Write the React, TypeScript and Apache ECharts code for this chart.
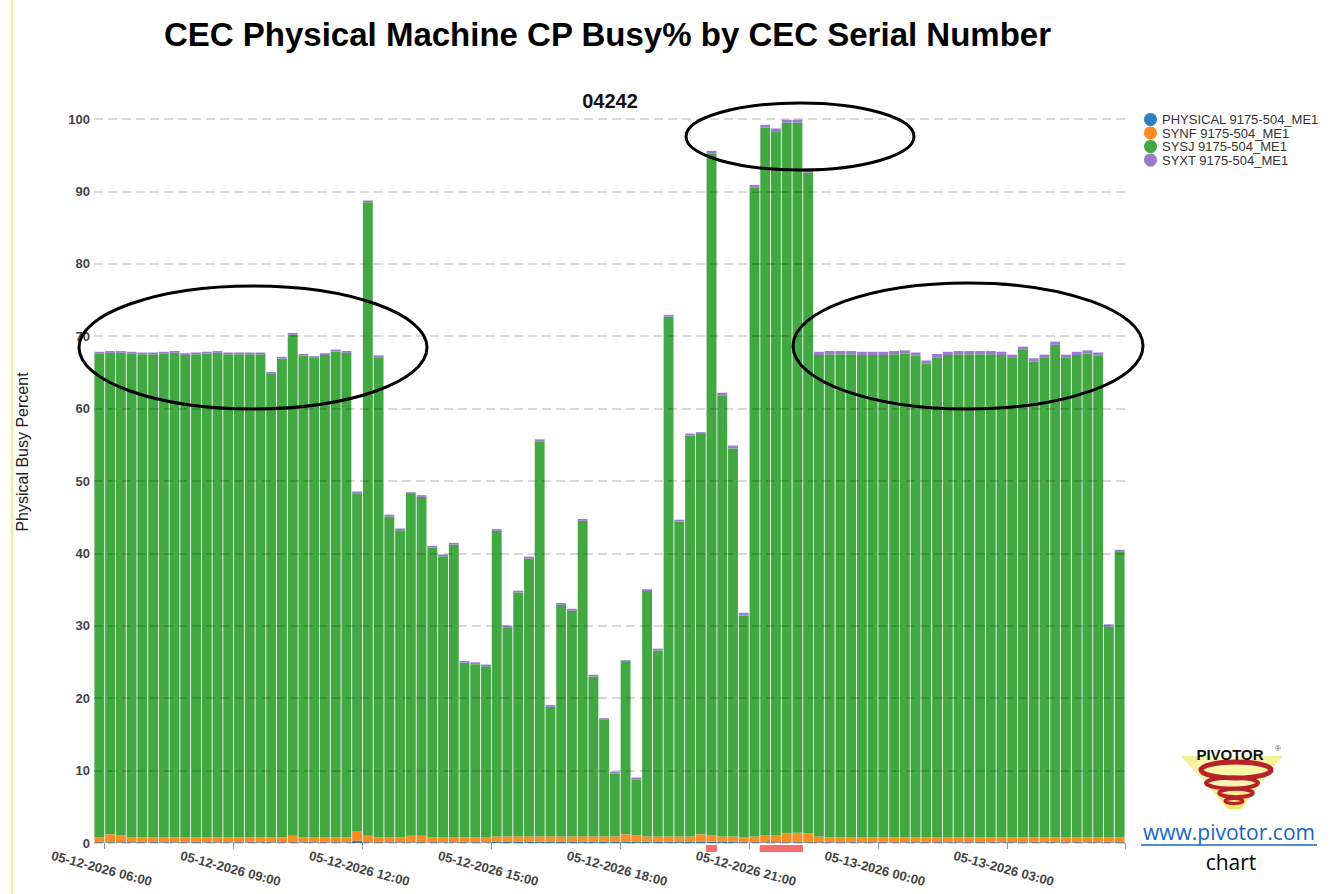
import React, { useEffect, useRef } from "react";
import * as echarts from "echarts";

// 15-minute intervals, 05-12-2026 05:45 through 05-13-2026 05:30
const DAY1_TIMES = [
  "05:45",
  "06:00", "06:15", "06:30", "06:45", "07:00", "07:15", "07:30", "07:45",
  "08:00", "08:15", "08:30", "08:45", "09:00", "09:15", "09:30", "09:45",
  "10:00", "10:15", "10:30", "10:45", "11:00", "11:15", "11:30", "11:45",
  "12:00", "12:15", "12:30", "12:45", "13:00", "13:15", "13:30", "13:45",
  "14:00", "14:15", "14:30", "14:45", "15:00", "15:15", "15:30", "15:45",
  "16:00", "16:15", "16:30", "16:45", "17:00", "17:15", "17:30", "17:45",
  "18:00", "18:15", "18:30", "18:45", "19:00", "19:15", "19:30", "19:45",
  "20:00", "20:15", "20:30", "20:45", "21:00", "21:15", "21:30", "21:45",
  "22:00", "22:15", "22:30", "22:45", "23:00", "23:15", "23:30", "23:45",
];
const DAY2_TIMES = [
  "00:00", "00:15", "00:30", "00:45", "01:00", "01:15", "01:30", "01:45",
  "02:00", "02:15", "02:30", "02:45", "03:00", "03:15", "03:30", "03:45",
  "04:00", "04:15", "04:30", "04:45", "05:00", "05:15", "05:30",
];
const CATEGORIES = [
  ...DAY1_TIMES.map((t) => "05-12-2026 " + t),
  ...DAY2_TIMES.map((t) => "05-13-2026 " + t),
];

const TICK_LABELS = [
  "05-12-2026 06:00",
  "05-12-2026 09:00",
  "05-12-2026 12:00",
  "05-12-2026 15:00",
  "05-12-2026 18:00",
  "05-12-2026 21:00",
  "05-13-2026 00:00",
  "05-13-2026 03:00",
];

const PHYSICAL = [
  0.1, 0.1, 0.1, 0.1, 0.1, 0.1, 0.1, 0.1, 0.1, 0.1, 0.1, 0.1,
  0.1, 0.1, 0.1, 0.1, 0.1, 0.1, 0.1, 0.1, 0.1, 0.1, 0.1, 0.1,
  0.3, 0.1, 0.1, 0.1, 0.1, 0.1, 0.1, 0.1, 0.1, 0.1, 0.1, 0.1,
  0.1, 0.2, 0.2, 0.2, 0.2, 0.2, 0.2, 0.2, 0.2, 0.2, 0.2, 0.2,
  0.2, 0.2, 0.2, 0.2, 0.2, 0.2, 0.2, 0.2, 0.2, 0.2, 0.2, 0.2,
  0.1, 0.1, 0.1, 0.1, 0.1, 0.1, 0.1, 0.1, 0.1, 0.1, 0.1, 0.1,
  0.1, 0.1, 0.1, 0.1, 0.1, 0.1, 0.1, 0.1, 0.1, 0.1, 0.1, 0.1,
  0.1, 0.1, 0.1, 0.1, 0.1, 0.1, 0.1, 0.1, 0.1, 0.1, 0.1, 0.1,
];

const SYNF = [
  0.7, 1.1, 1.0, 0.7, 0.7, 0.7, 0.7, 0.7, 0.7, 0.7, 0.7, 0.7,
  0.7, 0.7, 0.7, 0.7, 0.7, 0.7, 0.9, 0.7, 0.7, 0.7, 0.7, 0.7,
  1.3, 0.9, 0.7, 0.7, 0.7, 0.9, 0.9, 0.7, 0.7, 0.7, 0.7, 0.7,
  0.7, 0.7, 0.7, 0.7, 0.7, 0.7, 0.7, 0.7, 0.7, 0.7, 0.7, 0.7,
  0.7, 1.0, 0.9, 0.7, 0.7, 0.7, 0.7, 0.7, 1.0, 0.9, 0.7, 0.7,
  0.7, 0.8, 1.0, 1.0, 1.2, 1.3, 1.2, 0.8, 0.7, 0.7, 0.7, 0.7,
  0.7, 0.7, 0.7, 0.7, 0.7, 0.7, 0.7, 0.7, 0.7, 0.7, 0.7, 0.7,
  0.7, 0.7, 0.7, 0.7, 0.7, 0.7, 0.7, 0.7, 0.7, 0.7, 0.7, 0.7,
];

const SYSJ = [
  66.8, 66.5, 66.6, 66.8, 66.7, 66.7, 66.8, 66.9, 66.6, 66.7, 66.8, 66.9,
  66.7, 66.7, 66.7, 66.7, 64.0, 66.1, 69.2, 66.5, 66.2, 66.6, 67.1, 66.9,
  46.7, 87.5, 66.3, 44.3, 42.4, 47.2, 46.8, 40.0, 38.8, 40.4, 24.1, 23.9,
  23.6, 42.2, 28.9, 33.7, 38.4, 54.6, 17.9, 32.0, 31.2, 43.6, 22.1, 16.1,
  8.7, 23.8, 7.7, 33.9, 25.7, 71.8, 43.5, 55.4, 55.3, 94.1, 60.9, 53.6,
  30.6, 89.6, 97.7, 97.2, 98.2, 98.1, 91.3, 66.5, 66.7, 66.7, 66.7, 66.6,
  66.6, 66.6, 66.7, 66.8, 66.5, 65.4, 66.3, 66.6, 66.7, 66.7, 66.7, 66.7,
  66.6, 66.2, 67.3, 65.7, 66.2, 68.0, 66.2, 66.6, 66.8, 66.5, 29.1, 39.4,
];

const SYXT = [
  0.25, 0.25, 0.25, 0.25, 0.25, 0.25, 0.25, 0.25, 0.25, 0.25, 0.25, 0.25,
  0.25, 0.25, 0.25, 0.25, 0.25, 0.25, 0.25, 0.25, 0.25, 0.25, 0.25, 0.25,
  0.25, 0.25, 0.25, 0.25, 0.25, 0.25, 0.25, 0.25, 0.25, 0.25, 0.25, 0.25,
  0.25, 0.25, 0.25, 0.25, 0.25, 0.25, 0.25, 0.25, 0.25, 0.25, 0.25, 0.25,
  0.25, 0.25, 0.25, 0.25, 0.25, 0.25, 0.25, 0.25, 0.25, 0.4, 0.4, 0.4,
  0.4, 0.4, 0.4, 0.4, 0.4, 0.4, 0.4, 0.45, 0.45, 0.45, 0.45, 0.45,
  0.45, 0.45, 0.45, 0.45, 0.45, 0.45, 0.45, 0.45, 0.45, 0.45, 0.45, 0.45,
  0.45, 0.45, 0.45, 0.45, 0.45, 0.45, 0.45, 0.45, 0.45, 0.45, 0.3, 0.3,
];

// intervals flagged with red markers under the axis (busy >= 95%)
const ALERT_TIMES = [
  "05-12-2026 20:00",
  "05-12-2026 21:15",
  "05-12-2026 21:30",
  "05-12-2026 21:45",
  "05-12-2026 22:00",
];

const SERIES_NAMES = [
  "PHYSICAL 9175-504_ME1",
  "SYNF 9175-504_ME1",
  "SYSJ 9175-504_ME1",
  "SYXT 9175-504_ME1",
];
const SERIES_VALUES = [PHYSICAL, SYNF, SYSJ, SYXT];
const COLORS = ["#2f7fc1", "#fb8b23", "#41a842", "#9b7bcf"];

const FONT = "'Liberation Sans', Arial, Helvetica, sans-serif";

export default function App() {
  const ref = useRef<HTMLDivElement>(null);

  useEffect(() => {
    document.body.style.margin = "0";
    const chart = echarts.init(ref.current!, null, { renderer: "svg" });

    const barSeries = SERIES_NAMES.map((name, i) => ({
      name,
      type: "bar",
      stack: "total",
      data: SERIES_VALUES[i],
      barCategoryGap: "8%",
      itemStyle: { color: COLORS[i] },
      z: 2,
    }));

    const option = {
      animation: false,
      backgroundColor: "#ffffff",
      textStyle: { fontFamily: FONT },
      grid: { left: 94, top: 119, width: 1031, height: 724, containLabel: false },
      legend: {
        data: SERIES_NAMES,
        orient: "vertical",
        left: 1139,
        top: 108,
        icon: "circle",
        itemWidth: 13,
        itemHeight: 13,
        itemGap: 0.5,
        textStyle: { fontSize: 13, color: "#333", fontFamily: FONT },
      },
      xAxis: {
        type: "category",
        data: CATEGORIES,
        axisLine: { show: false },
        axisTick: {
          show: true,
          alignWithLabel: false,
          interval: (_i: number, v: string) => TICK_LABELS.includes(v),
          length: 6,
          lineStyle: { color: "#999", width: 1 },
        },
        axisLabel: {
          interval: (_i: number, v: string) => TICK_LABELS.includes(v),
          rotate: -15,
          align: "center",
          verticalAlign: "top",
          margin: 21,
          padding: [0, 14, 0, 0],
          fontSize: 13,
          fontWeight: "bold",
          color: "#444",
          fontFamily: FONT,
          hideOverlap: false,
        },
        splitLine: { show: false },
      },
      yAxis: {
        type: "value",
        min: 0,
        max: 100,
        interval: 10,
        z: 5,
        axisLine: { show: false },
        axisTick: { show: false },
        axisLabel: {
          fontSize: 13,
          fontWeight: "bold",
          color: "#444",
          margin: 4,
          fontFamily: FONT,
        },
        splitLine: {
          show: true,
          lineStyle: { color: "rgba(0,0,0,0.2)", width: 1.5, type: [9, 5] },
        },
      },
      series: [
        ...barSeries,
        {
          name: "alert",
          type: "scatter",
          data: ALERT_TIMES.map((t) => [t, -0.76]),
          symbol: "rect",
          symbolSize: [11, 7],
          itemStyle: { color: "#f44848" },
          clip: false,
          z: 3,
          silent: true,
        },
      ],
      graphic: [
        // page frame line
        {
          type: "line",
          shape: { x1: 12, y1: 0, x2: 12, y2: 894 },
          style: { stroke: "#f2ec9a", lineWidth: 2 },
          silent: true,
        },
        {
          type: "text",
          x: 607.5,
          y: 34,
          style: {
            text: "CEC Physical Machine CP Busy% by CEC Serial Number",
            font: `bold 33px ${FONT}`,
            fill: "#000",
            textAlign: "center",
            textVerticalAlign: "middle",
          },
        },
        {
          type: "text",
          x: 610,
          y: 101,
          style: {
            text: "04242",
            font: `bold 20px ${FONT}`,
            fill: "#111",
            textAlign: "center",
            textVerticalAlign: "middle",
          },
        },
        {
          type: "text",
          x: 22,
          y: 452,
          rotation: Math.PI / 2,
          style: {
            text: "Physical Busy Percent",
            font: `16px ${FONT}`,
            fill: "#222",
            textAlign: "center",
            textVerticalAlign: "middle",
          },
        },
        // annotation ellipses
        {
          type: "ellipse",
          shape: { cx: 253, cy: 347.5, rx: 174, ry: 61.5 },
          style: { stroke: "#000", lineWidth: 3, fill: "transparent" },
          z: 100,
        },
        {
          type: "ellipse",
          shape: { cx: 800, cy: 136.5, rx: 114, ry: 33.5 },
          style: { stroke: "#000", lineWidth: 3, fill: "transparent" },
          z: 100,
        },
        {
          type: "ellipse",
          shape: { cx: 968, cy: 346, rx: 175, ry: 63 },
          style: { stroke: "#000", lineWidth: 3, fill: "transparent" },
          z: 100,
        },
        // PIVOTOR logo
        {
          type: "group",
          z: 100,
          children: [
            {
              type: "polygon",
              shape: { points: [[1181, 756], [1282, 756], [1241, 809], [1228, 809]] },
              style: {
                fill: new echarts.graphic.RadialGradient(0.5, 0.25, 0.8, [
                  { offset: 0, color: "#fffde8" },
                  { offset: 1, color: "#eee455" },
                ]),
              },
            },
            {
              type: "ellipse",
              shape: { cx: 1236, cy: 770, rx: 35, ry: 8 },
              style: { stroke: "#b8202a", lineWidth: 5, fill: "#fbf6a8" },
            },
            {
              type: "ellipse",
              shape: { cx: 1232, cy: 783, rx: 26, ry: 5.5 },
              style: { stroke: "#b8202a", lineWidth: 4, fill: "transparent" },
            },
            {
              type: "ellipse",
              shape: { cx: 1236, cy: 793, rx: 17, ry: 4 },
              style: { stroke: "#b8202a", lineWidth: 3.5, fill: "transparent" },
            },
            {
              type: "ellipse",
              shape: { cx: 1234, cy: 801, rx: 9, ry: 2.5 },
              style: { stroke: "#b8202a", lineWidth: 3, fill: "transparent" },
            },
            {
              type: "text",
              x: 1230,
              y: 754,
              style: {
                text: "PIVOTOR",
                font: `bold 15px ${FONT}`,
                fill: "#111",
                textAlign: "center",
                textVerticalAlign: "middle",
              },
            },
            {
              type: "text",
              x: 1278,
              y: 748,
              style: {
                text: "®",
                font: `8px ${FONT}`,
                fill: "#555",
                textAlign: "center",
                textVerticalAlign: "middle",
              },
            },
          ],
        },
        {
          type: "text",
          x: 1229,
          y: 832,
          style: {
            text: "www.pivotor.com",
            font: `21px 'Open Sans', 'Noto Sans', sans-serif`,
            fill: "#1565c8",
            textAlign: "center",
            textVerticalAlign: "middle",
          },
          z: 100,
        },
        {
          type: "line",
          shape: { x1: 1141, y1: 845, x2: 1317, y2: 845 },
          style: { stroke: "#1565c8", lineWidth: 1.5 },
          z: 100,
        },
        {
          type: "text",
          x: 1231,
          y: 862,
          style: {
            text: "chart",
            font: `21px 'Open Sans', 'Noto Sans', sans-serif`,
            fill: "#000",
            textAlign: "center",
            textVerticalAlign: "middle",
          },
          z: 100,
        },
      ],
    };

    chart.setOption(option as any);
    return () => chart.dispose();
  }, []);

  return <div ref={ref} style={{ width: 1331, height: 894 }} />;
}
